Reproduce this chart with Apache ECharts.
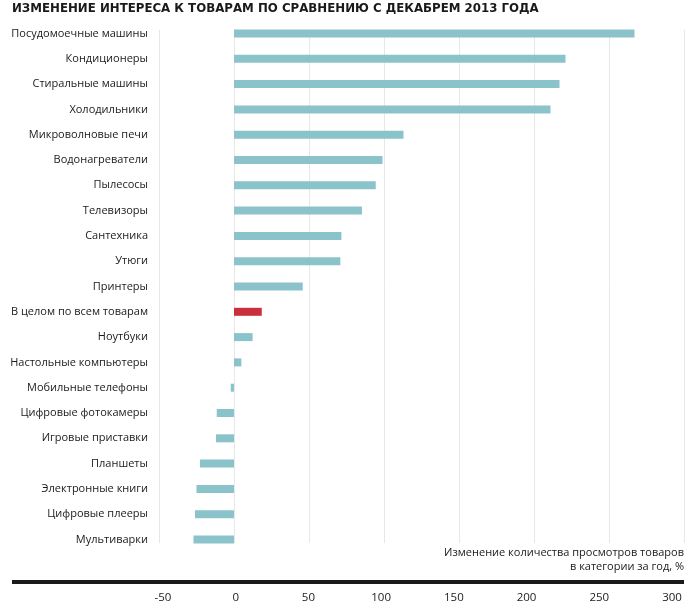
<!DOCTYPE html>
<html><head><meta charset="utf-8">
<script src="https://cdn.jsdelivr.net/npm/echarts@6/dist/echarts.min.js"></script>
<style>html,body{margin:0;padding:0;background:#fff}#c{width:696px;height:611px}</style>
</head><body><div id="c"></div>
<script>
var titleText = 'ИЗМЕНЕНИЕ ИНТЕРЕСА К ТОВАРАМ ПО СРАВНЕНИЮ С ДЕКАБРЕМ 2013 ГОДА';
var axisTitle = ['Изменение количества просмотров товаров', 'в категории за год, %'];
var categories = ['Посудомоечные машины','Кондиционеры','Стиральные машины','Холодильники','Микроволновые печи','Водонагреватели','Пылесосы','Телевизоры','Сантехника','Утюги','Принтеры','В целом по всем товарам','Ноутбуки','Настольные компьютеры','Мобильные телефоны','Цифровые фотокамеры','Игровые приставки','Планшеты','Электронные книги','Цифровые плееры','Мультиварки'];
var values = [267, 221, 217, 211, 113, 99, 94.5, 85.3, 71.6, 70.9, 45.8, 18.5, 12.4, 4.9, -2.2, -11.5, -12, -22.7, -25, -26, -27];
var highlight = 'В целом по всем товарам';
var xMin = -50, xMax = 300, xStep = 50;

var TEAL = '#8bc3cb', RED = '#c92f3d';
var chart = echarts.init(document.getElementById('c'), null, {renderer: 'canvas'});
var font = 'Open Sans';
chart.setOption({
  animation: false,
  title: {
    text: titleText, left: 12, top: 3, padding: 0,
    textStyle: {fontFamily: 'DejaVu Sans', fontWeight: 'bold', fontSize: 11.8, color: '#1a1a1a'}
  },
  grid: [
    {left: 159, width: 525, top: 20.85, height: 531.3, outerBoundsMode: 'none', containLabel: false},
    {left: 159, width: 525, top: 30, height: 513, outerBoundsMode: 'none', containLabel: false},
    {left: 163, width: 509, top: 585, height: 1, outerBoundsMode: 'none', containLabel: false}
  ],
  xAxis: [
    {gridIndex: 0, type: 'value', min: xMin, max: xMax, interval: xStep, show: false},
    {gridIndex: 1, type: 'value', min: xMin, max: xMax, interval: xStep,
      axisLine: {show: false}, axisTick: {show: false}, axisLabel: {show: false},
      splitLine: {show: true, lineStyle: {color: '#e7e7e7', width: 1}}},
    {gridIndex: 2, type: 'value', min: xMin, max: xMax, interval: xStep, position: 'bottom',
      axisLine: {show: false}, axisTick: {show: false}, splitLine: {show: false},
      axisLabel: {show: true, margin: 6, fontFamily: font, fontSize: 11.5, color: '#222'}}
  ],
  yAxis: [
    {gridIndex: 0, type: 'category', data: categories, inverse: true,
      axisLine: {show: false}, axisTick: {show: false}, splitLine: {show: false},
      axisLabel: {margin: 11, fontFamily: font, fontSize: 11, color: '#1a1a1a'}},
    {gridIndex: 1, type: 'value', min: 0, max: 1, show: false},
    {gridIndex: 2, type: 'value', min: 0, max: 1, show: false}
  ],
  series: [
    {type: 'bar', xAxisIndex: 0, yAxisIndex: 0, barWidth: 8, z: 3,
      data: values.map(function (v, i) {
        return {value: v, itemStyle: {color: categories[i] === highlight ? RED : TEAL}};
      })},
    {type: 'scatter', xAxisIndex: 1, yAxisIndex: 1, data: [], silent: true},
    {type: 'scatter', xAxisIndex: 2, yAxisIndex: 2, data: [], silent: true}
  ],
  graphic: [
    {type: 'line', shape: {x1: 12, y1: 582, x2: 684, y2: 582}, style: {stroke: '#1a1a1a', lineWidth: 4}},
    {type: 'text', x: 684, y: 546.5, style: {text: axisTitle.join('\n'), align: 'right', verticalAlign: 'top',
      font: '11px "Open Sans"', fill: '#1a1a1a', lineHeight: 13.5}}
  ]
});
</script></body></html>
